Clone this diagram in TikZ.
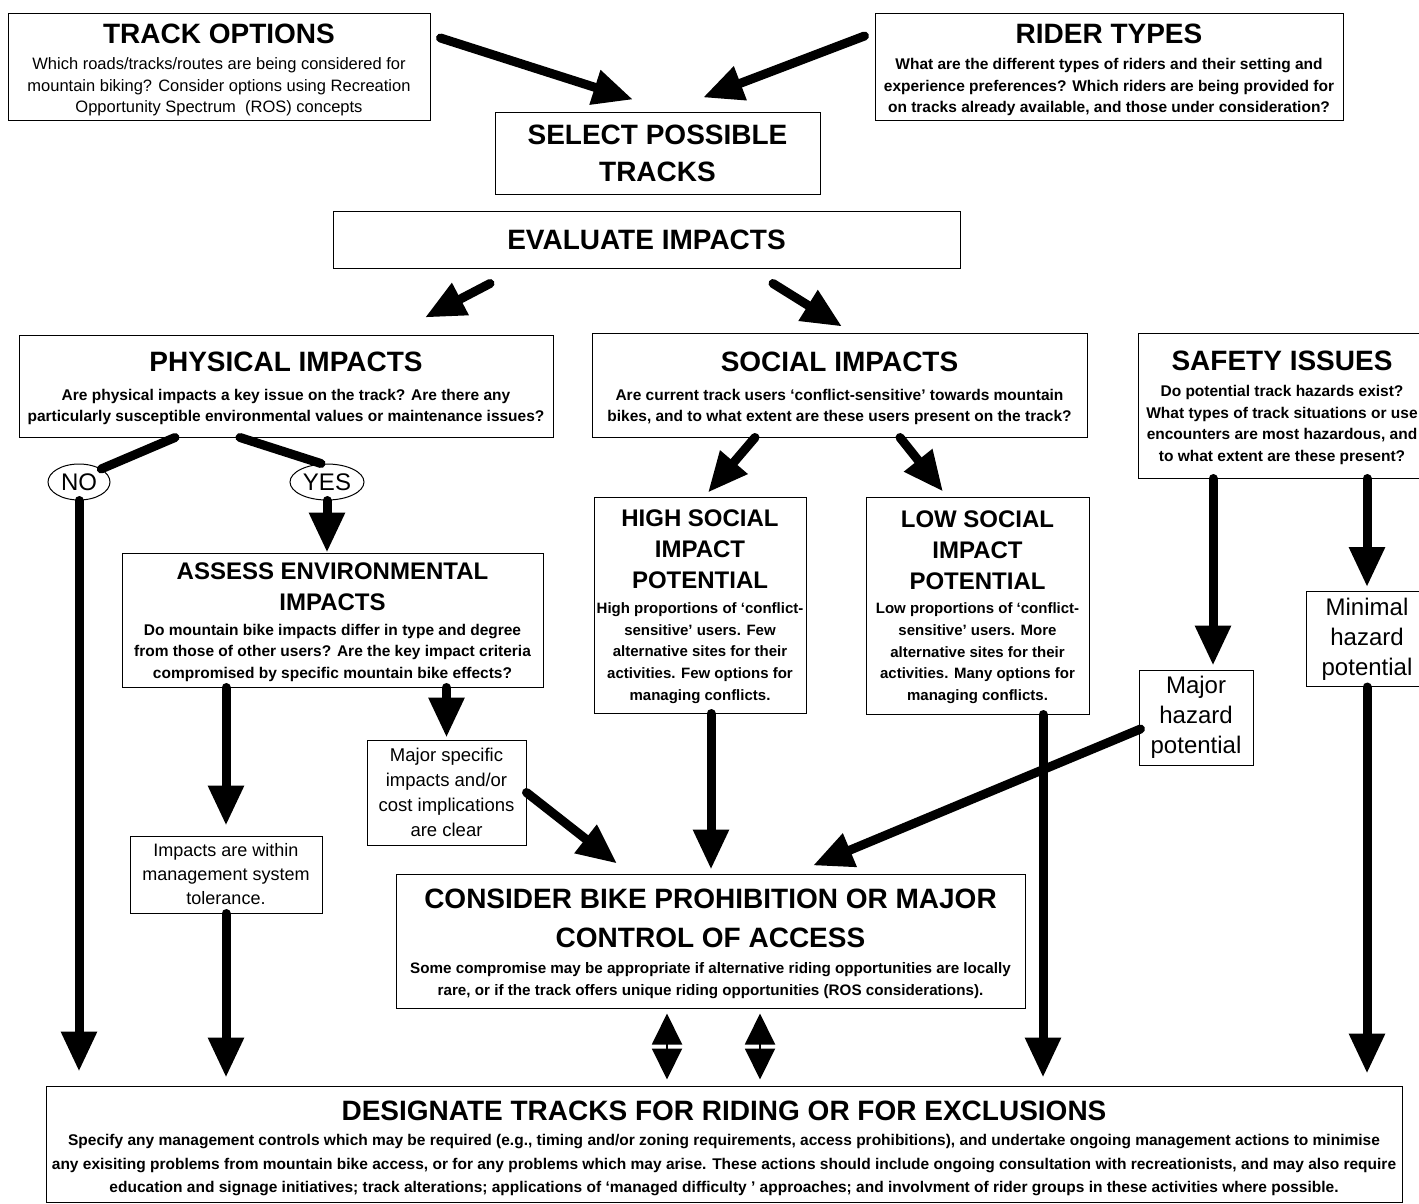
\documentclass[tikz,border=0pt]{standalone}
\usepackage{fontspec}
\setmainfont{Liberation Sans}
\usepackage{tikz}
\usetikzlibrary{arrows.meta}
\usetikzlibrary{shapes.geometric}
\usetikzlibrary{calc}
\usetikzlibrary{positioning}

\newcommand{\boxhead}{\fontsize{28}{37}\selectfont\bfseries}
\newcommand{\boxsub}{\fontsize{24}{31}\selectfont\bfseries}
\newcommand{\boxtext}{\fontsize{15.5}{21.5}\selectfont\bfseries}
\newcommand{\boxlabel}{\fontsize{24}{30}\selectfont}
\newcommand{\boxnote}{\fontsize{18.5}{25}\selectfont}

\begin{document}
\begin{tikzpicture}[x=1pt,y=-1pt,line cap=round]
	\tikzstyle{box}=[draw, line width=1pt, align=flush center, inner sep=0pt]
	\tikzstyle{oval}=[draw, ellipse, line width=1pt, inner sep=0pt, font=\boxlabel]
	\tikzstyle{arr}=[line width=9pt, -{Triangle[length=40pt,width=34pt]}]
	\tikzstyle{bar}=[line width=9pt]
	\tikzstyle{twin}=[line width=2pt, {Triangle[length=31pt,width=30pt]}-{Triangle[length=31pt,width=30pt]}]
	\useasboundingbox (0,0) rectangle (1419,1203);
	% top row
	\node[box, minimum width=422pt, minimum height=107pt, text width=418pt] (Track) at (219,66.5)
		{{\boxhead\rule{0pt}{26pt}TRACK OPTIONS\par}\vspace{5pt}\fontsize{16.5}{21.5}\selectfont Which roads/tracks/routes are being considered for\\ mountain biking? Consider options using Recreation\\ Opportunity Spectrum~~(ROS) concepts\par};
	\node[box, minimum width=468pt, minimum height=107pt, text width=464pt] (Rider) at (1109,66.5)
		{{\boxhead\rule{0pt}{26pt}RIDER TYPES\par}\vspace{5pt}\boxtext What are the different types of riders and their setting and\\ experience preferences? Which riders are being provided for\\ on tracks already available, and those under consideration?\par};
	\node[box, minimum width=325pt, minimum height=82pt, text width=317pt] (Select) at (657.5,153)
		{\boxhead SELECT POSSIBLE\\ TRACKS\par};
	\node[box, minimum width=627pt, minimum height=57pt, text width=619pt] (Eval) at (646.5,239.5)
		{\boxhead EVALUATE IMPACTS\par};
	% impacts
	\node[box, minimum width=534pt, minimum height=102pt, text width=530pt] (Phys) at (286,386)
		{{\boxhead\rule{0pt}{25pt}PHYSICAL IMPACTS\par}\vspace{7pt}\boxtext Are physical impacts a key issue on the track? Are there any\\ particularly susceptible environmental values or maintenance issues?\par};
	\node[box, minimum width=495pt, minimum height=104pt, text width=491pt] (Soc) at (839.5,385)
		{{\boxhead\rule{0pt}{27pt}SOCIAL IMPACTS\par}\vspace{7pt}\boxtext Are current track users `conflict-sensitive' towards mountain\\ bikes, and to what extent are these users present on the track?\par};
	\node[box, minimum width=288pt, minimum height=145pt, text width=286pt] (Safe) at (1282,405.5)
		{{\boxhead\rule{0pt}{24pt}SAFETY ISSUES\par}\vspace{5pt}\boxtext Do potential track hazards exist?\\ What types of track situations or use\\ encounters are most hazardous, and\\ to what extent are these present?\par};
	\node[oval, minimum width=62pt, minimum height=36pt] (No) at (79,482) {NO};
	\node[oval, minimum width=74pt, minimum height=36pt] (Yes) at (327,482) {YES};
	\node[box, minimum width=421pt, minimum height=134pt, text width=419pt] (Assess) at (332.5,620)
		{{\boxsub\rule{0pt}{21pt}ASSESS ENVIRONMENTAL\\ IMPACTS\par}\vspace{3pt}\boxtext Do mountain bike impacts differ in type and degree\\ from those of other users? Are the key impact criteria\\ compromised by specific mountain bike effects?\par};
	\node[box, minimum width=212pt, minimum height=216pt, text width=210pt] (High) at (700,605)
		{{\boxsub\rule{0pt}{20pt}HIGH SOCIAL\\ IMPACT\\ POTENTIAL\par}\vspace{3pt}\fontsize{15}{21.7}\selectfont\bfseries High proportions of `conflict-\\ sensitive' users. Few\\ alternative sites for their\\ activities. Few options for\\ managing conflicts.\par};
	\node[box, minimum width=223pt, minimum height=217pt, text width=221pt] (Low) at (977.5,605.5)
		{{\boxsub\rule{0pt}{20pt}LOW SOCIAL\\ IMPACT\\ POTENTIAL\par}\vspace{3pt}\fontsize{15}{21.7}\selectfont\bfseries Low proportions of `conflict-\\ sensitive' users. More\\ alternative sites for their\\ activities. Many options for\\ managing conflicts.\par};
	\node[box, minimum width=114pt, minimum height=95pt, text width=110pt] (MajHaz) at (1196,717.5)
		{\boxlabel Major\\ hazard\\ potential\par};
	\node[box, minimum width=122pt, minimum height=95pt, text width=118pt] (MinHaz) at (1367,639)
		{\boxlabel Minimal\\ hazard\\ potential\par};
	\node[box, minimum width=159pt, minimum height=105pt, text width=155pt] (MajSpec) at (446.5,792.5)
		{\boxnote Major specific\\ impacts and/or\\ cost implications\\ are clear\par};
	\node[box, minimum width=192pt, minimum height=77pt, text width=188pt] (Within) at (226,874.5)
		{\fontsize{18}{24}\selectfont Impacts are within\\ management system\\ tolerance.\par};
	% outcomes
	\node[box, minimum width=629pt, minimum height=134pt, text width=625pt] (Consider) at (710.5,941)
		{{\boxhead\fontsize{28}{39}\selectfont\rule{0pt}{26pt}CONSIDER BIKE PROHIBITION OR MAJOR\\ CONTROL OF ACCESS\par}\vspace{4pt}\fontsize{15.2}{22}\selectfont\bfseries Some compromise may be appropriate if alternative riding opportunities are locally\\ rare, or if the track offers unique riding opportunities (ROS considerations).\par};
	\node[box, minimum width=1356pt, minimum height=116pt, text width=1352pt] (Designate) at (724,1144)
		{{\boxhead\rule{0pt}{28.5pt}DESIGNATE TRACKS FOR RIDING OR FOR EXCLUSIONS\par}\vspace{2pt}\fontsize{15.5}{23.5}\selectfont\bfseries Specify any management controls which may be required (e.g., timing and/or zoning requirements, access prohibitions), and undertake ongoing management actions to minimise\\ any exisiting problems from mountain bike access, or for any problems which may arise. These actions should include ongoing consultation with recreationists, and may also require\\ education and signage initiatives; track alterations; applications of `managed difficulty ' approaches; and involvment of rider groups in these activities where possible.\par};
	% connectors
	\path[arr]
		([shift={(10,-28.5)}]Track.east) edge ([shift={(-24.5,-12)}]Select.north)
		([shift={(-10,-30.5)}]Rider.west) edge ([shift={(45.5,-14)}]Select.north)
		([shift={(-156.5,15)}]Eval.south) edge ([shift={(139,-17)}]Phys.north)
		([shift={(126.5,15)}]Eval.south) edge ([shift={(2.5,-6)}]Soc.north)
		(Yes.south) edge (Yes.south |- Assess.north)
		(No.south) edge[shorten >=14pt] (No.south |- Designate.north)
		(Within.north |- Assess.south) edge[shorten >=10pt] (Within.north)
		(MajSpec.north |- Assess.south) edge[shorten >=2pt] (MajSpec.north)
		(Within.south) edge[shorten >=8pt] (Within.south |- Designate.north)
		(MajSpec.east) edge ([shift={(-93.5,-10)}]Consider.north)
		([shift={(-84.5,0)}]Soc.south) edge ([shift={(8,-4)}]High.north)
		([shift={(60.5,0)}]Soc.south) edge ([shift={(-34.5,-5)}]Low.north)
		([xshift=11pt]High.south) edge[shorten >=4pt] ([xshift=11pt]High.south |- Consider.north)
		([xshift=65.5pt]Low.south) edge[shorten >=8pt] ([xshift=65.5pt]Low.south |- Designate.north)
		([xshift=17pt]MajHaz.north |- Safe.south) edge[shorten >=4pt] ([xshift=17pt]MajHaz.north)
		(MinHaz.north |- Safe.south) edge[shorten >=4pt] (MinHaz.north)
		([shift={(2,11.5)}]MajHaz.west) edge ([shift={(102.5,-8)}]Consider.north)
		(MinHaz.south) edge[shorten >=12pt] (MinHaz.south |- Designate.north);
	\path[bar]
		([xshift=-111pt]Phys.south) edge (No.north east)
		([xshift=-46pt]Phys.south) edge ([xshift=-6pt]Yes.north);
	\path[twin, shorten <=5pt, shorten >=6pt]
		([xshift=-43.5pt]Consider.south) edge ([xshift=-43.5pt]Consider.south |- Designate.north)
		([xshift=49.5pt]Consider.south) edge ([xshift=49.5pt]Consider.south |- Designate.north);
\end{tikzpicture}
\end{document}
